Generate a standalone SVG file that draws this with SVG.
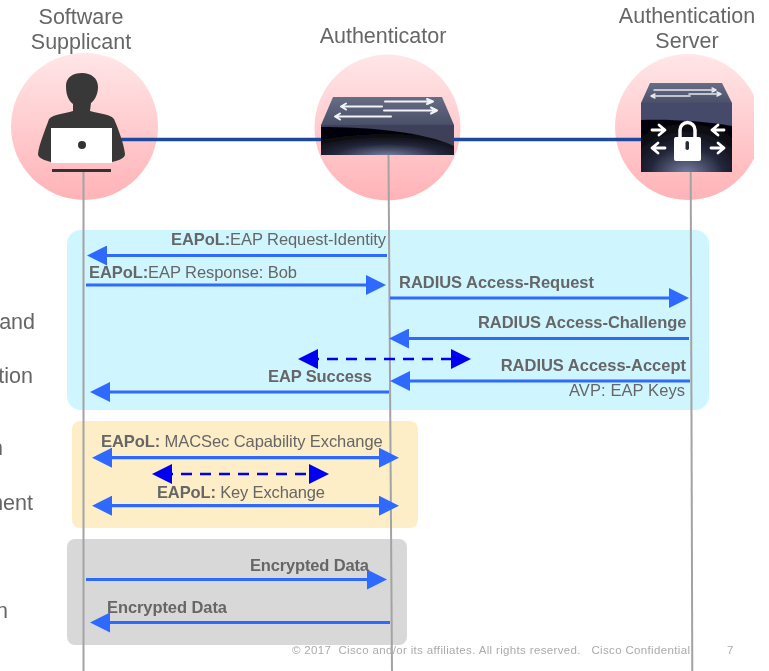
<svg xmlns="http://www.w3.org/2000/svg" width="769" height="671" viewBox="0 0 769 671">
<defs>
<linearGradient id="pink" x1="0" y1="0" x2="0" y2="1"><stop offset="0" stop-color="#ffe6e8"/><stop offset="1" stop-color="#ffb3b7"/></linearGradient>
<linearGradient id="topFace" x1="0" y1="0" x2="0" y2="1"><stop offset="0" stop-color="#676d85"/><stop offset="1" stop-color="#4a4f68"/></linearGradient>
<radialGradient id="front" cx="0.5" cy="1.05" r="0.75"><stop offset="0" stop-color="#7a84a8"/><stop offset="0.55" stop-color="#23263a"/><stop offset="1" stop-color="#06060a"/></radialGradient>
<clipPath id="edge"><rect x="0" y="0" width="754" height="671"/></clipPath>
<filter id="soft" x="0" y="0" width="100%" height="100%" filterUnits="objectBoundingBox"><feGaussianBlur stdDeviation="0.6"/></filter>
<marker id="head" markerUnits="userSpaceOnUse" markerWidth="20" markerHeight="20" refX="10" refY="10" orient="auto-start-reverse"><path d="M0,0L20,10L0,20Z" fill="#2f6bff"/></marker>
<marker id="headDash" markerUnits="userSpaceOnUse" markerWidth="20" markerHeight="20" refX="10" refY="10" orient="auto-start-reverse"><path d="M0,0L20,10L0,20Z" fill="#0000f0"/></marker>
</defs>
<style>
text{font-family:"Liberation Sans",Arial,sans-serif}
.title{font-size:21.5px;fill:#666;text-anchor:middle}
.side{font-size:21.5px;fill:#666;text-anchor:end}
.lab{font-size:16.5px;fill:#666}
.b{font-weight:bold}
.foot{font-size:11.5px;fill:#ababab}
.life{stroke:#a3a3a3;stroke-width:2;fill:none}
.link{stroke:#1d4aa0;stroke-width:3.5;fill:none}
.msg{stroke:#2f6bff;stroke-width:3.2;fill:none}
.dash{stroke:#0000f0;stroke-width:2.6;stroke-dasharray:11 8;fill:none}
.arr{stroke:#f2f3f6;stroke-width:2;fill:none;stroke-linecap:round;stroke-linejoin:round}
.arrs{stroke:#e6e8ee;stroke-width:1.5;fill:none;stroke-linecap:round;stroke-linejoin:round}
.arrw{stroke:#fff;stroke-width:2.8;fill:none;stroke-linecap:round;stroke-linejoin:round}
</style>
<rect width="769" height="671" fill="#fff"/>
<g filter="url(#soft)">
<g id="panels">
<rect x="67" y="230" width="642" height="180" rx="14" fill="#cff5ff"/>
<rect x="72" y="421" width="346" height="107" rx="8" fill="#fdeec8"/>
<rect x="67" y="539" width="340" height="106" rx="8" fill="#d8d8d8"/>
</g>
<g id="side-labels">
<text class="side" x="35" y="329">and</text>
<text class="side" x="33" y="382.5">tion</text>
<text class="side" x="3" y="455">n</text>
<text class="side" x="33" y="510">ment</text>
<text class="side" x="8" y="618">n</text>
</g>
<g id="supplicant">
<circle cx="84.5" cy="126.5" r="73.5" fill="url(#pink)"/>
<text class="title" x="81" y="24">Software</text>
<text class="title" x="81" y="49">Supplicant</text>
</g>
<g id="authenticator">
<circle cx="387.5" cy="127.5" r="73" fill="url(#pink)"/>
<text class="title" x="383" y="43">Authenticator</text>
</g>
<g id="server">
<circle cx="688" cy="127" r="73" fill="url(#pink)" clip-path="url(#edge)"/>
<text class="title" x="687" y="23">Authentication</text>
<text class="title" x="687" y="48">Server</text>
</g>
<g id="connectors">
<path class="link" d="M119,139.5H322"/>
<path class="link" d="M453,139.5H643"/>
<path class="life" d="M83.5,170V671"/>
<path class="life" d="M388.5,155L392,671"/>
<path class="life" d="M690.7,172L692.3,671"/>
<path class="msg" marker-end="url(#head)" d="M387,255.5H97"/>
<path class="msg" marker-end="url(#head)" d="M86,285H376"/>
<path class="msg" marker-end="url(#head)" d="M390,298H679"/>
<path class="msg" marker-end="url(#head)" d="M689,338.5H399"/>
<path class="msg" marker-end="url(#head)" d="M690,381H400"/>
<path class="msg" marker-end="url(#head)" d="M389,392H100"/>
<path class="dash" marker-start="url(#headDash)" marker-end="url(#headDash)" d="M308,359H461"/>
<path class="msg" marker-start="url(#head)" marker-end="url(#head)" d="M102,457.7H389"/>
<path class="dash" marker-start="url(#headDash)" marker-end="url(#headDash)" d="M162,474H319"/>
<path class="msg" marker-start="url(#head)" marker-end="url(#head)" d="M102,505.7H389"/>
<path class="msg" marker-end="url(#head)" d="M86,579.5H377"/>
<path class="msg" marker-end="url(#head)" d="M390,622.5H100"/>
</g>
<g id="supplicant-icon">
<path fill="#383838" d="M66,86C66,77 73,73 82,73C91,73 98,78 98,87C98,94 95,100 91,103L90,111C100,114 110,114 114,119C118,128 124,144 125,154C125,158 120,160 112,162H51C44,160 38,158 38,154C39,144 46,128 49,119C54,114 64,114 73,111L73,104C68,100 66,94 66,86Z"/>
<rect x="51" y="128" width="61" height="35" fill="#fff"/>
<rect x="52" y="169" width="59" height="3" fill="#333"/>
<circle cx="82" cy="145" r="4" fill="#333"/>
</g>
<g id="authenticator-icon">
<path fill="url(#topFace)" d="M333,97H442L454,125H321Z"/>
<rect x="321" y="125" width="133" height="30" fill="url(#front)"/>
<path fill="#3e4159" d="M321,125H454V146C425,132 370,127 321,127Z"/>
<path class="arr" d="M385,101.5H433M427,99L433,101.5L427,104"/>
<path class="arr" d="M384,110.5H437M431,107.5L437,110.5L431,113.5"/>
<path class="arr" d="M382,106.5H341M346,103.5L341,106.5L346,109.5"/>
<path class="arr" d="M391,116.5H335M340,113.5L335,116.5L340,119.5"/>
</g>
<g id="server-icon">
<path fill="url(#topFace)" d="M650,83H722L732,103H641Z"/>
<rect x="641" y="103" width="91" height="69" fill="url(#front)"/>
<path fill="#44486a" d="M641,103H732V126C705,121 670,119 641,120Z"/>
<path class="arrs" d="M654,90H716M712,88L716,90L712,92"/>
<path class="arrs" d="M689,94H721M717,92L721,94L717,96"/>
<path class="arrs" d="M690,96H651M655,94L651,96L655,98"/>
<path class="arrw" d="M652,130H664M659,125L665,130L659,135"/>
<path class="arrw" d="M665,148H652M658,143L652,148L658,153"/>
<path class="arrw" d="M724,130H712M718,125L712,130L718,135"/>
<path class="arrw" d="M711,148H724M718,143L724,148L718,153"/>
<path d="M680,138V130A7.5,7.5 0 0 1 695,130V138" fill="none" stroke="#fff" stroke-width="3.5"/>
<rect x="674" y="137" width="27" height="24" rx="2" fill="#fff"/>
<rect x="685.5" y="141" width="3.5" height="9" rx="1.7" fill="#2a2c3c"/>
</g>
<g id="labels">
<text class="lab" x="171" y="245" textLength="215"><tspan class="b">EAPoL:</tspan>EAP Request-Identity</text>
<text class="lab" x="89" y="278" textLength="208"><tspan class="b">EAPoL:</tspan>EAP Response: Bob</text>
<text class="lab b" x="399" y="288" textLength="195">RADIUS Access-Request</text>
<text class="lab b" x="478" y="328" textLength="208.5">RADIUS Access-Challenge</text>
<text class="lab b" x="500.7" y="371" textLength="185.3">RADIUS Access-Accept</text>
<text class="lab" x="569" y="396" textLength="116">AVP: EAP Keys</text>
<text class="lab b" x="268" y="382" textLength="104">EAP Success</text>
<text class="lab" x="101" y="447" textLength="281.7"><tspan class="b">EAPoL:</tspan> MACSec Capability Exchange</text>
<text class="lab" x="157" y="497.7" textLength="168"><tspan class="b">EAPoL:</tspan> Key Exchange</text>
<text class="lab b" x="250" y="570.5" textLength="119">Encrypted Data</text>
<text class="lab b" x="107" y="612.7" textLength="120">Encrypted Data</text>
<text class="foot" x="292" y="654" textLength="398" xml:space="preserve">© 2017  Cisco and/or its affiliates. All rights reserved.   Cisco Confidential</text>
<text class="foot" x="727" y="654">7</text>
</g>
</g>
</svg>
